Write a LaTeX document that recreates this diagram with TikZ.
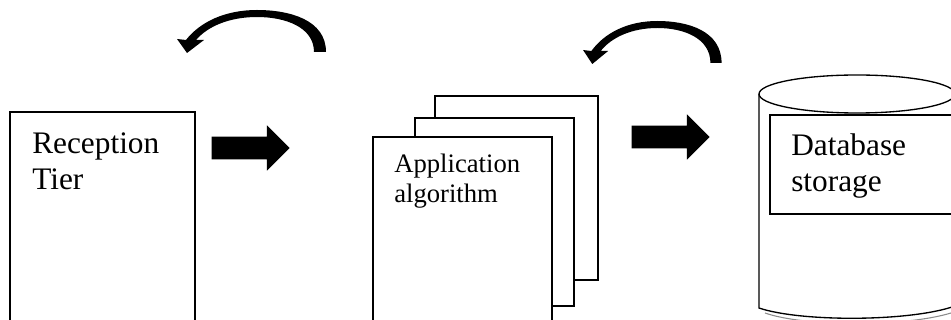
\documentclass[tikz,border=0pt]{standalone}
\usepackage{fontspec}
\setmainfont{Liberation Serif}
\usetikzlibrary{shapes.arrows}

\begin{document}
\begin{tikzpicture}[x=0.75pt, y=-0.75pt, every node/.style={text=black}]
  \useasboundingbox (0,0) rectangle (951,320);
  \tikzset{
    sheet/.style={draw=black, fill=white, line width=2pt},
    tiertext/.style={anchor=base west, align=left, inner sep=0pt,
                     font=\fontsize{23.5}{27}\selectfont},
    smalltext/.style={anchor=base west, align=left, inner sep=0pt,
                      font=\fontsize{20}{23}\selectfont},
    bigarrow/.style={single arrow, fill=black, inner xsep=0pt, inner ysep=8.25pt,
                     minimum height=58.5pt, single arrow head extend=8.6pt,
                     single arrow head indent=0pt, anchor=tip},
    backarc/.pic={
      \fill[black] (6,0) .. controls (6,-32) and (-30,-42) .. (-63,-42)
        .. controls (-95,-42) and (-120,-30) .. (-134,-12)
        -- (-143,-13) -- (-133,1) -- (-116,-12) -- (-124,-12)
        .. controls (-112,-26) and (-90,-35) .. (-63,-35)
        .. controls (-35,-35) and (-6,-25) .. (-6,0) -- cycle;
    }
  }

  % reception tier
  \draw[line width=1.5pt] (10,112) rectangle (195,330);
  \node[tiertext] (reception) at (32,190) {Reception\\Tier};

  % application tier: three stacked sheets
  \draw[sheet] (435,96) rectangle (598,280);
  \draw[sheet] (415,118) rectangle (574,306);
  \draw[sheet] (373,137) rectangle (552,330);
  \node[smalltext] (application) at (394,203) {Application\\algorithm};

  % database tier
  \draw[line width=1pt, fill=white] (759,94) -- (759,308)
    .. controls (800,322) and (910,322) .. (955,306) -- (955,94);
  \draw[line width=1pt] (857,94) ellipse (98 and 19);
  \draw[black!45, line width=0.8pt] (765,313) .. controls (805,327) and (905,327) .. (951,313);
  \draw[line width=1.8pt] (770,115) rectangle (962,214);
  \node[tiertext] (database) at (791,192) {Database\\storage};

  \node[bigarrow] (arrowA) at (290,148) {};
  \node[bigarrow] (arrowB) at (710,137) {};

  \pic at (320,52) {backarc};
  \pic[xscale=0.93] at (716,63) {backarc};
\end{tikzpicture}
\end{document}
